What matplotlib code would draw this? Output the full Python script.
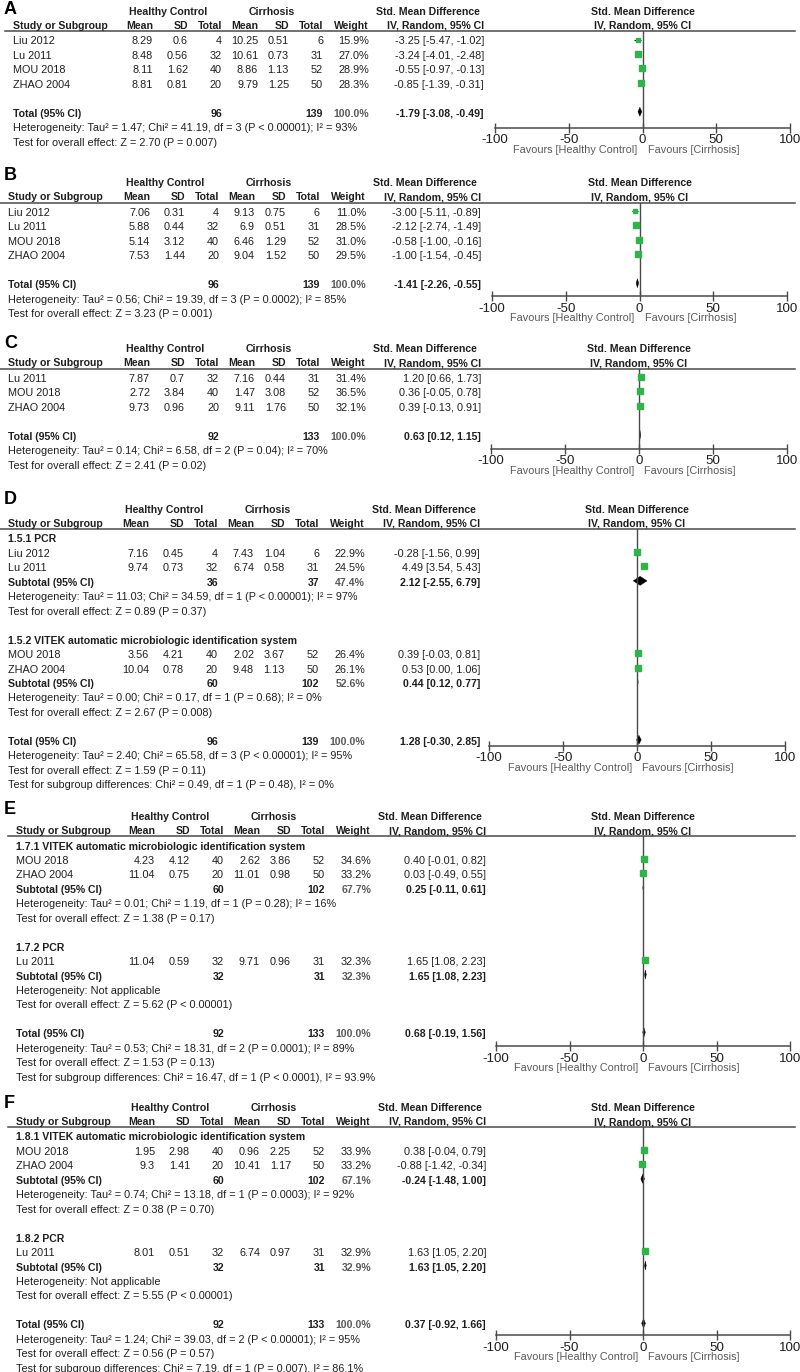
import numpy as np
import matplotlib
matplotlib.use('Agg')
import matplotlib.pyplot as plt
from matplotlib.patches import Polygon

plt.rcParams['font.family'] = ['Liberation Sans', 'DejaVu Sans']
plt.rcParams['axes.unicode_minus'] = False

W, H = 800, 1372
TXT = '#1f1f1f'
GREY = '#5a5a5a'
GREEN = '#2fb44a'
LINE = '#4a4a4a'
FS = 7.85      # regular text
FSB = 7.6      # bold text
STEP = 14.45
TICKS = [-100, -50, 0, 50, 100]
TICK_LABELS = ['-100', '-50', '0', '50', '100']
COL_HEAD = ['Mean', 'SD', 'Total', 'Mean', 'SD', 'Total', 'Weight', 'IV, Random, 95% CI']
BASE_COLS = [153, 188, 222, 258, 289, 323, 369, 484]

# %% Panel A
A_STUDY = ['Liu 2012', 'Lu 2011', 'MOU 2018', 'ZHAO 2004']
A_HC_MEAN = [8.29, 8.48, 8.11, 8.81]
A_HC_SD = [0.6, 0.56, 1.62, 0.81]
A_HC_N = [4, 32, 40, 20]
A_CI_MEAN = [10.25, 10.61, 8.86, 9.79]
A_CI_SD = [0.51, 0.73, 1.13, 1.25]
A_CI_N = [6, 31, 52, 50]
A_WEIGHT = [15.9, 27.0, 28.9, 28.3]
A_SMD = [-3.25, -3.24, -0.55, -0.85]
A_LO = [-5.47, -4.01, -0.97, -1.39]
A_HI = [-1.02, -2.48, -0.13, -0.31]
A_TOTAL = [96, 139, 100.0, -1.79, -3.08, -0.49]
A_NOTES = ['Heterogeneity: Tau² = 1.47; Chi² = 41.19, df = 3 (P < 0.00001); I² = 93%',
           'Test for overall effect: Z = 2.70 (P = 0.007)']

# %% Panel B
B_STUDY = ['Liu 2012', 'Lu 2011', 'MOU 2018', 'ZHAO 2004']
B_HC_MEAN = [7.06, 5.88, 5.14, 7.53]
B_HC_SD = [0.31, 0.44, 3.12, 1.44]
B_HC_N = [4, 32, 40, 20]
B_CI_MEAN = [9.13, 6.9, 6.46, 9.04]
B_CI_SD = [0.75, 0.51, 1.29, 1.52]
B_CI_N = [6, 31, 52, 50]
B_WEIGHT = [11.0, 28.5, 31.0, 29.5]
B_SMD = [-3.00, -2.12, -0.58, -1.00]
B_LO = [-5.11, -2.74, -1.00, -1.54]
B_HI = [-0.89, -1.49, -0.16, -0.45]
B_TOTAL = [96, 139, 100.0, -1.41, -2.26, -0.55]
B_NOTES = ['Heterogeneity: Tau² = 0.56; Chi² = 19.39, df = 3 (P = 0.0002); I² = 85%',
           'Test for overall effect: Z = 3.23 (P = 0.001)']

# %% Panel C
C_STUDY = ['Lu 2011', 'MOU 2018', 'ZHAO 2004']
C_HC_MEAN = [7.87, 2.72, 9.73]
C_HC_SD = [0.7, 3.84, 0.96]
C_HC_N = [32, 40, 20]
C_CI_MEAN = [7.16, 1.47, 9.11]
C_CI_SD = [0.44, 3.08, 1.76]
C_CI_N = [31, 52, 50]
C_WEIGHT = [31.4, 36.5, 32.1]
C_SMD = [1.20, 0.36, 0.39]
C_LO = [0.66, -0.05, -0.13]
C_HI = [1.73, 0.78, 0.91]
C_TOTAL = [92, 133, 100.0, 0.63, 0.12, 1.15]
C_NOTES = ['Heterogeneity: Tau² = 0.14; Chi² = 6.58, df = 2 (P = 0.04); I² = 70%',
           'Test for overall effect: Z = 2.41 (P = 0.02)']

# %% Panel D
D_STUDY = ['Liu 2012', 'Lu 2011', 'MOU 2018', 'ZHAO 2004']
D_GROUP = [0, 0, 1, 1]
D_GROUP_NAME = ['1.5.1 PCR', '1.5.2 VITEK automatic microbiologic identification system']
D_HC_MEAN = [7.16, 9.74, 3.56, 10.04]
D_HC_SD = [0.45, 0.73, 4.21, 0.78]
D_HC_N = [4, 32, 40, 20]
D_CI_MEAN = [7.43, 6.74, 2.02, 9.48]
D_CI_SD = [1.04, 0.58, 3.67, 1.13]
D_CI_N = [6, 31, 52, 50]
D_WEIGHT = [22.9, 24.5, 26.4, 26.1]
D_SMD = [-0.28, 4.49, 0.39, 0.53]
D_LO = [-1.56, 3.54, -0.03, 0.00]
D_HI = [0.99, 5.43, 0.81, 1.06]
D_SUB_TOTAL = [[36, 37, 47.4, 2.12, -2.55, 6.79], [60, 102, 52.6, 0.44, 0.12, 0.77]]
D_SUB_NOTES = [['Heterogeneity: Tau² = 11.03; Chi² = 34.59, df = 1 (P < 0.00001); I² = 97%',
                'Test for overall effect: Z = 0.89 (P = 0.37)'],
               ['Heterogeneity: Tau² = 0.00; Chi² = 0.17, df = 1 (P = 0.68); I² = 0%',
                'Test for overall effect: Z = 2.67 (P = 0.008)']]
D_TOTAL = [96, 139, 100.0, 1.28, -0.30, 2.85]
D_NOTES = ['Heterogeneity: Tau² = 2.40; Chi² = 65.58, df = 3 (P < 0.00001); I² = 95%',
           'Test for overall effect: Z = 1.59 (P = 0.11)',
           'Test for subgroup differences: Chi² = 0.49, df = 1 (P = 0.48), I² = 0%']

# %% Panel E
E_STUDY = ['MOU 2018', 'ZHAO 2004', 'Lu 2011']
E_GROUP = [0, 0, 1]
E_GROUP_NAME = ['1.7.1 VITEK automatic microbiologic identification system', '1.7.2 PCR']
E_HC_MEAN = [4.23, 11.04, 11.04]
E_HC_SD = [4.12, 0.75, 0.59]
E_HC_N = [40, 20, 32]
E_CI_MEAN = [2.62, 11.01, 9.71]
E_CI_SD = [3.86, 0.98, 0.96]
E_CI_N = [52, 50, 31]
E_WEIGHT = [34.6, 33.2, 32.3]
E_SMD = [0.40, 0.03, 1.65]
E_LO = [-0.01, -0.49, 1.08]
E_HI = [0.82, 0.55, 2.23]
E_SUB_TOTAL = [[60, 102, 67.7, 0.25, -0.11, 0.61], [32, 31, 32.3, 1.65, 1.08, 2.23]]
E_SUB_NOTES = [['Heterogeneity: Tau² = 0.01; Chi² = 1.19, df = 1 (P = 0.28); I² = 16%',
                'Test for overall effect: Z = 1.38 (P = 0.17)'],
               ['Heterogeneity: Not applicable',
                'Test for overall effect: Z = 5.62 (P < 0.00001)']]
E_TOTAL = [92, 133, 100.0, 0.68, -0.19, 1.56]
E_NOTES = ['Heterogeneity: Tau² = 0.53; Chi² = 18.31, df = 2 (P = 0.0001); I² = 89%',
           'Test for overall effect: Z = 1.53 (P = 0.13)',
           'Test for subgroup differences: Chi² = 16.47, df = 1 (P < 0.0001), I² = 93.9%']

# %% Panel F
F_STUDY = ['MOU 2018', 'ZHAO 2004', 'Lu 2011']
F_GROUP = [0, 0, 1]
F_GROUP_NAME = ['1.8.1 VITEK automatic microbiologic identification system', '1.8.2 PCR']
F_HC_MEAN = [1.95, 9.3, 8.01]
F_HC_SD = [2.98, 1.41, 0.51]
F_HC_N = [40, 20, 32]
F_CI_MEAN = [0.96, 10.41, 6.74]
F_CI_SD = [2.25, 1.17, 0.97]
F_CI_N = [52, 50, 31]
F_WEIGHT = [33.9, 33.2, 32.9]
F_SMD = [0.38, -0.88, 1.63]
F_LO = [-0.04, -1.42, 1.05]
F_HI = [0.79, -0.34, 2.20]
F_SUB_TOTAL = [[60, 102, 67.1, -0.24, -1.48, 1.00], [32, 31, 32.9, 1.63, 1.05, 2.20]]
F_SUB_NOTES = [['Heterogeneity: Tau² = 0.74; Chi² = 13.18, df = 1 (P = 0.0003); I² = 92%',
                'Test for overall effect: Z = 0.38 (P = 0.70)'],
               ['Heterogeneity: Not applicable',
                'Test for overall effect: Z = 5.55 (P < 0.00001)']]
F_TOTAL = [92, 133, 100.0, 0.37, -0.92, 1.66]
F_NOTES = ['Heterogeneity: Tau² = 1.24; Chi² = 39.03, df = 2 (P < 0.00001); I² = 95%',
           'Test for overall effect: Z = 0.56 (P = 0.57)',
           'Test for subgroup differences: Chi² = 7.19, df = 1 (P = 0.007), I² = 86.1%']


def make_rows(n, total, notes, group=None, group_names=None, sub_totals=None, sub_notes=None):
    rows = []
    if group is None:
        rows += [('study', i) for i in range(n)]
    else:
        for g, name in enumerate(group_names):
            if g:
                rows.append(('blank',))
            rows.append(('group', name))
            rows += [('study', i) for i in range(n) if group[i] == g]
            rows.append(('sum', 'Subtotal (95% CI)', sub_totals[g]))
            rows += [('note', t) for t in sub_notes[g]]
    rows.append(('blank',))
    rows.append(('sum', 'Total (95% CI)', total))
    rows += [('note', t) for t in notes]
    return rows


def ci_text(est, lo, hi):
    return f'{est:.2f} [{lo:.2f}, {hi:.2f}]'


def draw_panel(fig, ax0, letter, letter_y, line_y, shift, left, fx, axis_gap, data, rows):
    study, hc_m, hc_sd, hc_n, ci_m, ci_sd, ci_n, weight, smd, lo, hi = data
    cols = [c + shift for c in BASE_COLS]
    h1, h2 = line_y - 19, line_y - 5

    # table header
    ax0.text(4, letter_y, letter, fontsize=13, fontweight='bold', va='center', ha='left', color='black')
    bold = dict(fontsize=FSB, fontweight='bold', va='center', color=TXT)
    ax0.text(cols[0] + 15, h1, 'Healthy Control', ha='center', **bold)
    ax0.text(cols[3] + 14, h1, 'Cirrhosis', ha='center', **bold)
    ax0.text(cols[7] - 4, h1, 'Std. Mean Difference', ha='right', **bold)
    ax0.text(left, h2, 'Study or Subgroup', ha='left', **bold)
    for x, lab in zip(cols, COL_HEAD):
        ax0.text(x, h2, lab, ha='right', **bold)
    ax0.plot([left - 8, 795], [line_y, line_y], color=LINE, lw=1.1)

    ys = [line_y + 10.5 + i * STEP for i in range(len(rows))]
    last_sum = max(i for i, r in enumerate(rows) if r[0] == 'sum')
    axis_y = ys[last_sum] + axis_gap

    # forest axes, y in pixel rows
    fax = fig.add_axes([fx[0] / W, 1 - axis_y / H, (fx[1] - fx[0]) / W, (axis_y - line_y) / H])
    fax.set_xlim(-100, 100)
    fax.set_ylim(axis_y, line_y)
    fax.patch.set_alpha(0)
    for s in ['top', 'left', 'right']:
        fax.spines[s].set_visible(False)
    fax.spines['bottom'].set_color(LINE)
    fax.spines['bottom'].set_linewidth(1.1)
    fax.set_xticks(TICKS)
    fax.set_xticklabels(TICK_LABELS)
    fax.set_yticks([])
    fax.tick_params(axis='x', direction='inout', length=7, width=1, color=LINE,
                    labelsize=9.6, pad=1, labelcolor=TXT)
    fax.axvline(0, color=LINE, lw=1)
    fax.text(0, h1, 'Std. Mean Difference', ha='center', **bold)
    fax.text(0, h2, 'IV, Random, 95% CI', ha='center', **bold)
    fax.text(-3.5, axis_y + 22, 'Favours [Healthy Control]', ha='right', va='center',
             fontsize=7.8, color=GREY)
    fax.text(3.5, axis_y + 22, 'Favours [Cirrhosis]', ha='left', va='center',
             fontsize=7.8, color=GREY)

    reg = dict(fontsize=FS, va='center', color=TXT)
    for y, row in zip(ys, rows):
        kind = row[0]
        if kind == 'study':
            i = row[1]
            ax0.text(left, y, study[i], ha='left', **reg)
            vals = [f'{hc_m[i]:g}', f'{hc_sd[i]:g}', str(hc_n[i]),
                    f'{ci_m[i]:g}', f'{ci_sd[i]:g}', str(ci_n[i]),
                    f'{weight[i]:.1f}%', ci_text(smd[i], lo[i], hi[i])]
            for x, v in zip(cols, vals):
                ax0.text(x, y, v, ha='right', **reg)
            fax.hlines(y - 2, lo[i], hi[i], color='black', lw=0.8)
            fax.plot(smd[i], y - 2, marker='s', ms=0.8 * np.sqrt(weight[i]),
                     color=GREEN, mec=GREEN, linestyle='none')
        elif kind == 'group':
            ax0.text(left, y, row[1], ha='left', **bold)
        elif kind == 'sum':
            n1, n2, w, est, l, h = row[2]
            ax0.text(left, y, row[1], ha='left', **bold)
            ax0.text(cols[2], y, str(n1), ha='right', **bold)
            ax0.text(cols[5], y, str(n2), ha='right', **bold)
            ax0.text(cols[6], y, f'{w:.1f}%', ha='right', fontsize=FSB, fontweight='bold',
                     va='center', color=GREY)
            ax0.text(cols[7], y, ci_text(est, l, h), ha='right', **bold)
            yc = y - 2
            fax.add_patch(Polygon([(l, yc), (est, yc - 4.5), (h, yc), (est, yc + 4.5)],
                                  closed=True, color='black', lw=0.3))
        elif kind == 'note':
            ax0.text(left, y, row[1], ha='left', **reg)


fig = plt.figure(figsize=(W / 100, H / 100), dpi=100)
ax0 = fig.add_axes([0, 0, 1, 1])
ax0.set_xlim(0, W)
ax0.set_ylim(H, 0)
ax0.axis('off')

draw_panel(fig, ax0, 'A', 9, 31, 0, 13, (495, 790), 14,
           (A_STUDY, A_HC_MEAN, A_HC_SD, A_HC_N, A_CI_MEAN, A_CI_SD, A_CI_N,
            A_WEIGHT, A_SMD, A_LO, A_HI),
           make_rows(len(A_STUDY), A_TOTAL, A_NOTES))
draw_panel(fig, ax0, 'B', 175, 202.5, -3, 8, (492, 787), 11,
           (B_STUDY, B_HC_MEAN, B_HC_SD, B_HC_N, B_CI_MEAN, B_CI_SD, B_CI_N,
            B_WEIGHT, B_SMD, B_LO, B_HI),
           make_rows(len(B_STUDY), B_TOTAL, B_NOTES))
draw_panel(fig, ax0, 'C', 343, 368.5, -3, 8, (491, 787), 12,
           (C_STUDY, C_HC_MEAN, C_HC_SD, C_HC_N, C_CI_MEAN, C_CI_SD, C_CI_N,
            C_WEIGHT, C_SMD, C_LO, C_HI),
           make_rows(len(C_STUDY), C_TOTAL, C_NOTES))
draw_panel(fig, ax0, 'D', 499, 529, -4, 8, (489, 785), 4,
           (D_STUDY, D_HC_MEAN, D_HC_SD, D_HC_N, D_CI_MEAN, D_CI_SD, D_CI_N,
            D_WEIGHT, D_SMD, D_LO, D_HI),
           make_rows(len(D_STUDY), D_TOTAL, D_NOTES, D_GROUP, D_GROUP_NAME,
                     D_SUB_TOTAL, D_SUB_NOTES))
draw_panel(fig, ax0, 'E', 810, 836, 2, 16, (496, 790), 12,
           (E_STUDY, E_HC_MEAN, E_HC_SD, E_HC_N, E_CI_MEAN, E_CI_SD, E_CI_N,
            E_WEIGHT, E_SMD, E_LO, E_HI),
           make_rows(len(E_STUDY), E_TOTAL, E_NOTES, E_GROUP, E_GROUP_NAME,
                     E_SUB_TOTAL, E_SUB_NOTES))
draw_panel(fig, ax0, 'F', 1103, 1127, 2, 16, (496, 790), 10,
           (F_STUDY, F_HC_MEAN, F_HC_SD, F_HC_N, F_CI_MEAN, F_CI_SD, F_CI_N,
            F_WEIGHT, F_SMD, F_LO, F_HI),
           make_rows(len(F_STUDY), F_TOTAL, F_NOTES, F_GROUP, F_GROUP_NAME,
                     F_SUB_TOTAL, F_SUB_NOTES))

fig.savefig('out.png', dpi=100)
